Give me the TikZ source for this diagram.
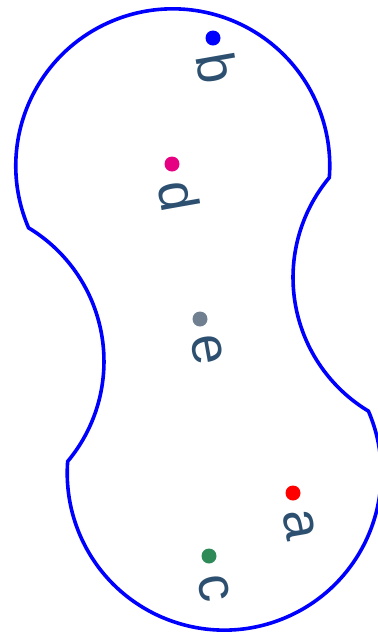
\documentclass[tikz,border=0pt]{standalone}
\usepackage{fontspec}
\setmainfont{Liberation Sans}
\definecolor{outlineblue}{RGB}{0,0,255}
\definecolor{labeltext}{RGB}{45,80,112}
\definecolor{dotb}{RGB}{0,0,255}
\definecolor{dotd}{RGB}{230,0,130}
\definecolor{dote}{RGB}{112,128,144}
\definecolor{dota}{RGB}{255,0,0}
\definecolor{dotc}{RGB}{46,139,87}
\begin{document}
\begin{tikzpicture}[x=1pt,y=1pt,
  outline/.style={draw=outlineblue,line width=3.6pt},
  pt/.style={circle,inner sep=0pt,minimum size=15pt},
  lbl/.style={text=labeltext,inner sep=0pt,rotate=-80,font=\fontsize{54}{60}\selectfont}]
\useasboundingbox (0,0) rectangle (378,-633);
\begin{scope}[shift={(198.5,-319.5)},rotate=9.5]
\draw[outline] (152.49,118.46)
  arc[start angle=130.6, end angle=229.4, radius=156pt]
  arc[start angle=13.76, end angle=-193.76, radius=157pt]
  arc[start angle=-49.4, end angle=49.4, radius=156pt]
  arc[start angle=193.76, end angle=-13.76, radius=157pt] -- cycle;
\end{scope}
\node[pt,fill=dotb] (b) at (213,-38) {};
\node[pt,fill=dotd] (d) at (172,-164) {};
\node[pt,fill=dote] (e) at (200,-319) {};
\node[pt,fill=dota] (a) at (293,-493) {};
\node[pt,fill=dotc] (c) at (209,-556) {};
\node[lbl] (lb) at (217,-68) {b};
\node[lbl] (ld) at (179,-196) {d};
\node[lbl] (le) at (207,-350) {e};
\node[lbl] (la) at (299,-525) {a};
\node[lbl] (lc) at (214,-588) {c};
\end{tikzpicture}
\end{document}
